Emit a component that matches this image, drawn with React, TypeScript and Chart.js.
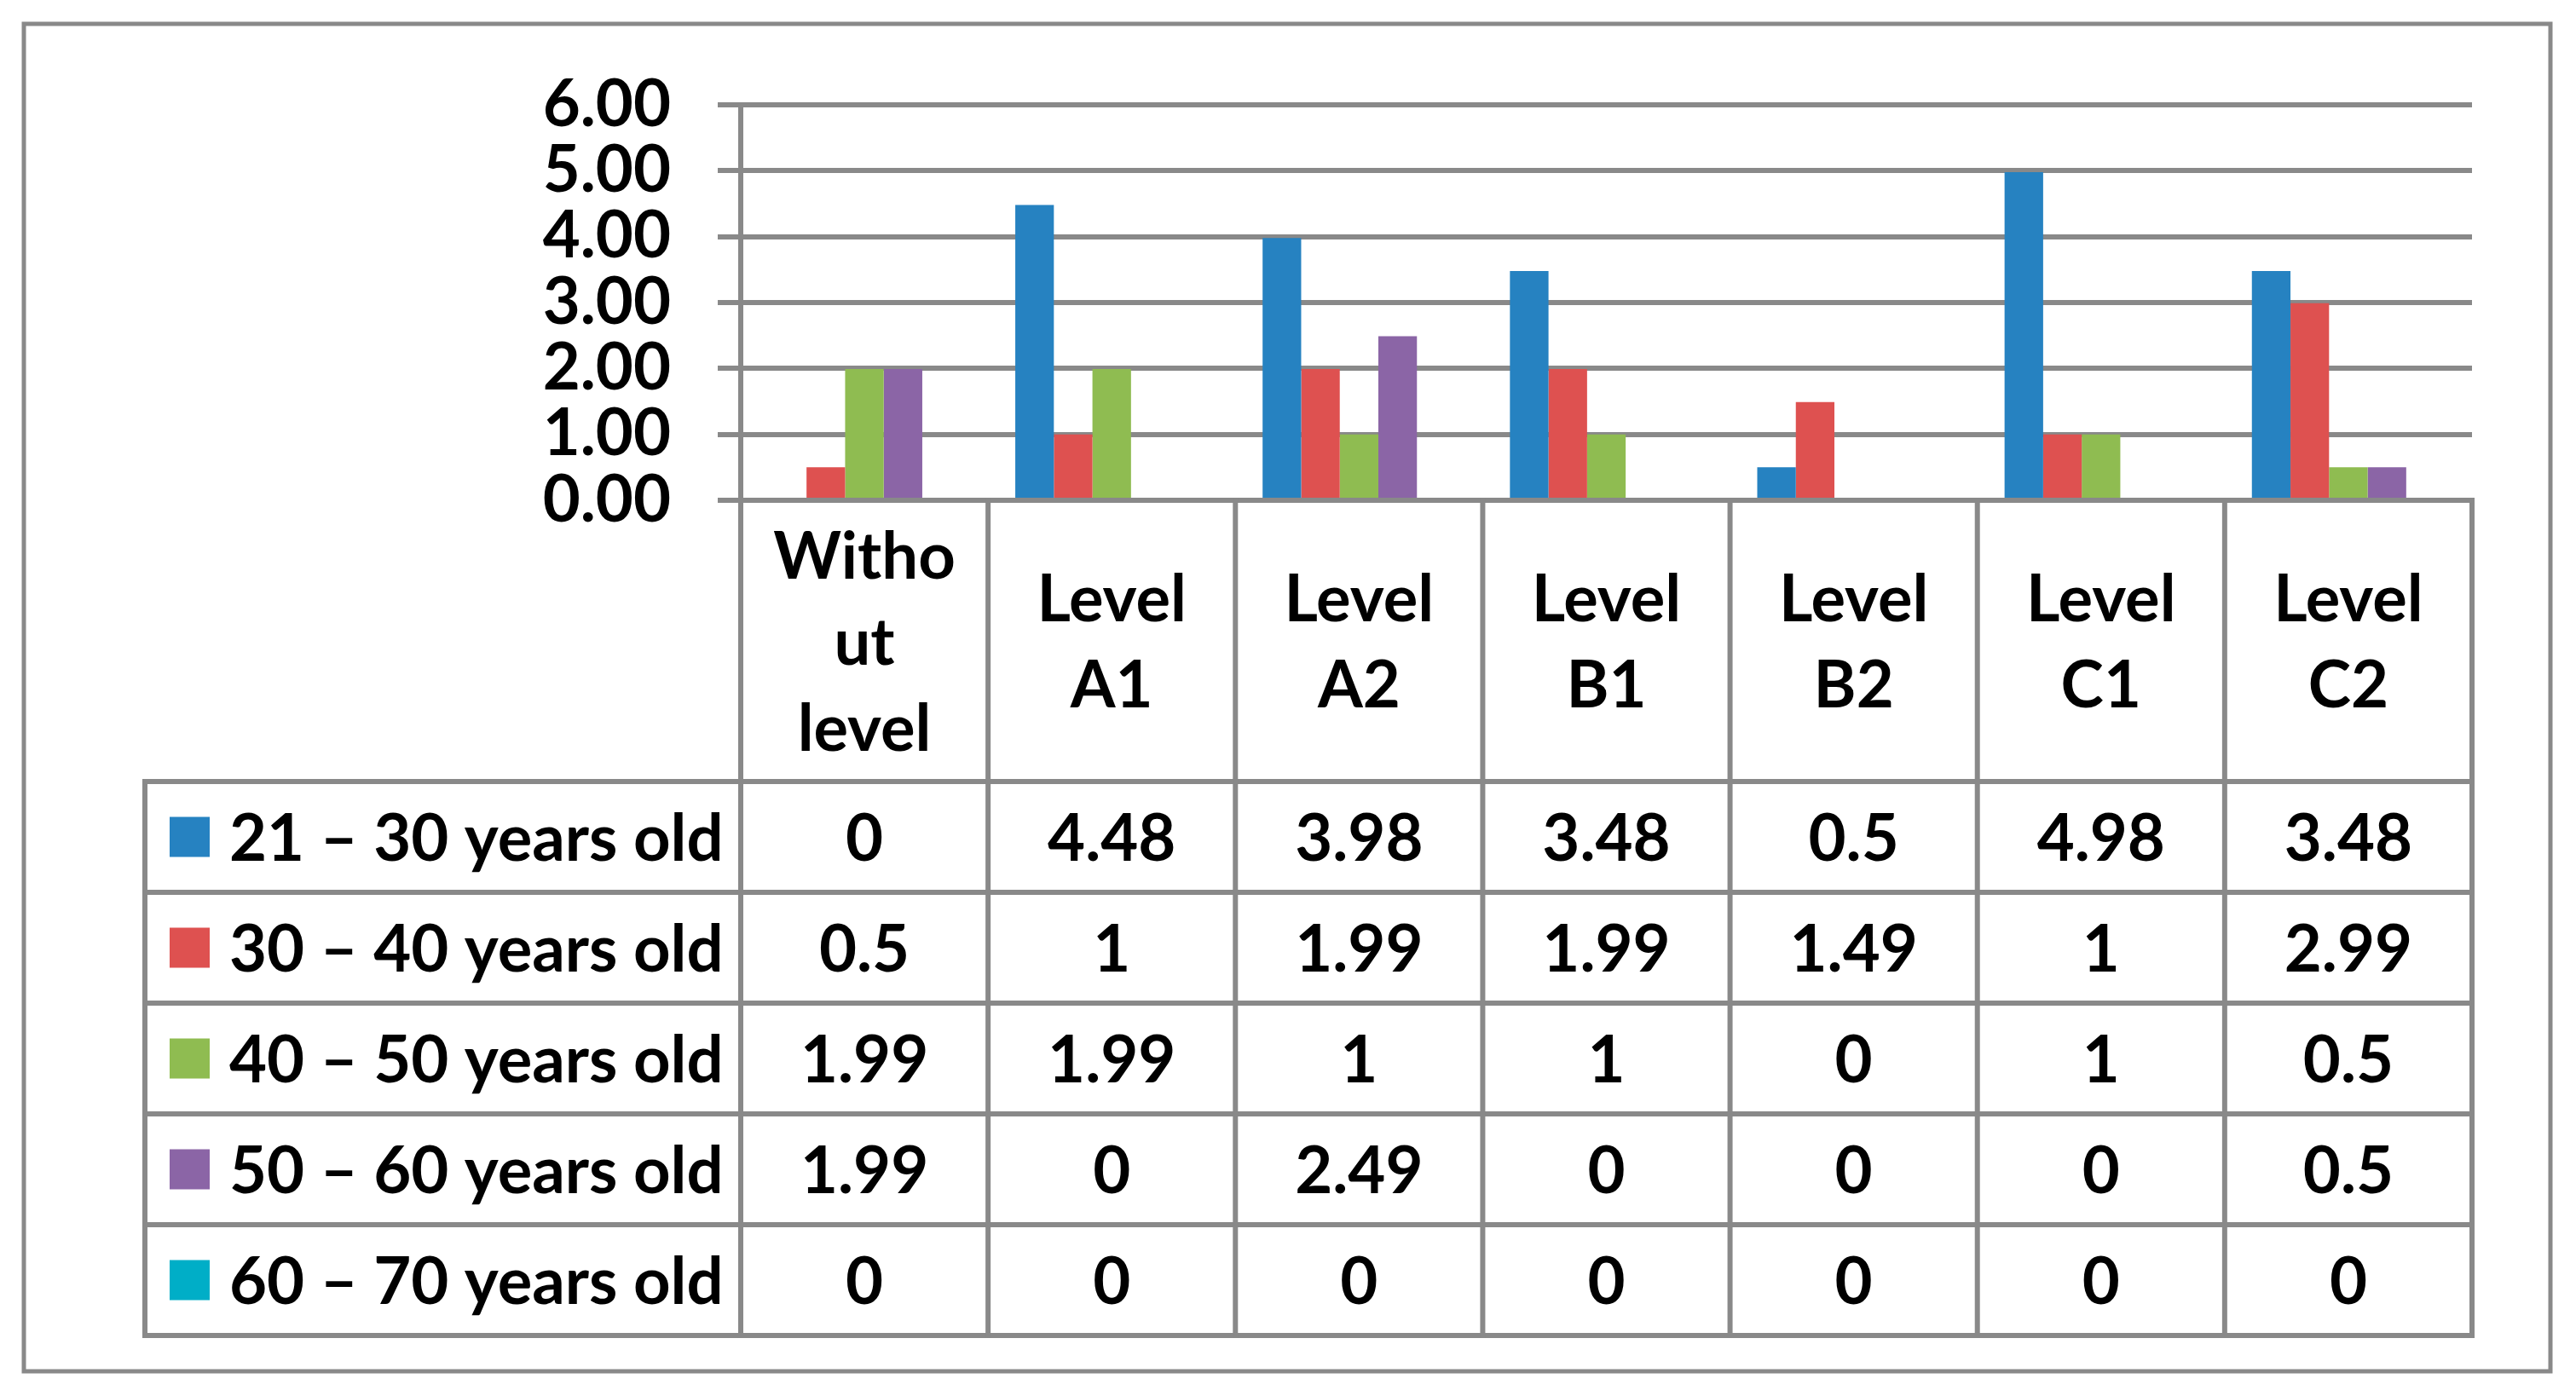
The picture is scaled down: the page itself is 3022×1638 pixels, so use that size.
import React, { useEffect, useRef } from "react";
import { Chart, registerables } from "chart.js";

Chart.register(...registerables);

// ---- data ----
const categories: string[][] = [
  ["Witho", "ut", "level"],
  ["Level", "A1"],
  ["Level", "A2"],
  ["Level", "B1"],
  ["Level", "B2"],
  ["Level", "C1"],
  ["Level", "C2"],
];
const seriesNames = [
  "21 – 30 years old",
  "30 – 40 years old",
  "40 – 50 years old",
  "50 – 60 years old",
  "60 – 70 years old",
];
const age21to30 = [0, 4.48, 3.98, 3.48, 0.5, 4.98, 3.48];
const age30to40 = [0.5, 1, 1.99, 1.99, 1.49, 1, 2.99];
const age40to50 = [1.99, 1.99, 1, 1, 0, 1, 0.5];
const age50to60 = [1.99, 0, 2.49, 0, 0, 0, 0.5];
const age60to70 = [0, 0, 0, 0, 0, 0, 0];
const seriesValues = [age21to30, age30to40, age40to50, age50to60, age60to70];
const seriesColors = ["#2682C1", "#DE5150", "#8FBC51", "#8B65A6", "#00AEC7"];
const yTickLabels = ["0.00", "1.00", "2.00", "3.00", "4.00", "5.00", "6.00"];

// ---- style / layout ----
const W = 3022;
const H = 1638;
const GRID = "#898989";
const LW = 6;
const FONT_FAMILY = "Lato";
const FONT_SIZE = 76;
const FONT = `bold ${FONT_SIZE}px ${FONT_FAMILY}`;
const CAP_HALF = FONT_SIZE * 0.362;
const TABLE_LEFT = 170;
const HEADER_BOTTOM = 917;
const ROW_H = 130;
const HEADER_LINE = 101;

const tablePlugin = {
  id: "dataTable",
  afterDraw(chart: any) {
    const ctx = chart.ctx as CanvasRenderingContext2D;
    const xs = chart.scales.x;
    const ys = chart.scales.y;
    const area = chart.chartArea;
    const n = categories.length;
    const catW = n > 1 ? xs.getPixelForValue(1) - xs.getPixelForValue(0) : area.right - area.left;
    const axisY = ys.getPixelForValue(0);
    const bottom = HEADER_BOTTOM + ROW_H * seriesNames.length;

    ctx.save();
    ctx.strokeStyle = GRID;
    ctx.lineWidth = LW;
    ctx.lineCap = "square";
    const line = (x1: number, y1: number, x2: number, y2: number) => {
      ctx.beginPath();
      ctx.moveTo(x1, y1);
      ctx.lineTo(x2, y2);
      ctx.stroke();
    };
    // horizontal table lines
    for (let r = 0; r <= seriesNames.length; r++) {
      const yy = HEADER_BOTTOM + r * ROW_H;
      line(TABLE_LEFT, yy, area.right, yy);
    }
    // y axis extension into the table
    line(area.left, area.top, area.left, bottom);
    // column separators
    for (let i = 0; i < n; i++) {
      const xb = xs.getPixelForValue(i) + catW / 2;
      line(xb, axisY, xb, bottom);
    }
    // legend column left edge
    line(TABLE_LEFT, HEADER_BOTTOM, TABLE_LEFT, bottom);

    // outer border
    ctx.lineCap = "butt";
    ctx.lineWidth = 5;
    ctx.strokeRect(28, 28, 2964, 1581);

    // text
    ctx.fillStyle = "#000";
    ctx.font = FONT;
    ctx.textBaseline = "alphabetic";
    const headerCenter = (axisY + HEADER_BOTTOM) / 2;
    categories.forEach((lines, i) => {
      const cx = xs.getPixelForValue(i);
      ctx.textAlign = "center";
      lines.forEach((t, k) => {
        const cy = headerCenter + (k - (lines.length - 1) / 2) * HEADER_LINE;
        ctx.fillText(t, cx, cy + CAP_HALF);
      });
    });

    seriesNames.forEach((name, r) => {
      const cy = HEADER_BOTTOM + ROW_H * (r + 0.5);
      ctx.fillStyle = seriesColors[r];
      ctx.fillRect(199, cy - 23.5, 47, 47);
      ctx.fillStyle = "#000";
      ctx.textAlign = "left";
      ctx.fillText(name, 269, cy + CAP_HALF);
      ctx.textAlign = "center";
      seriesValues[r].forEach((v, i) => {
        ctx.fillText(String(v), xs.getPixelForValue(i), cy + CAP_HALF);
      });
    });
    ctx.restore();
  },
};

export default function App() {
  const ref = useRef<HTMLCanvasElement | null>(null);

  useEffect(() => {
    if (!ref.current) return;
    const chart = new Chart(ref.current, {
      type: "bar",
      data: {
        labels: categories.map((c) => c.join("")),
        datasets: seriesNames.map((name, i) => ({
          label: name,
          data: seriesValues[i],
          backgroundColor: seriesColors[i],
          borderWidth: 0,
          categoryPercentage: 0.78,
          barPercentage: 1,
        })),
      },
      options: {
        responsive: false,
        animation: false,
        devicePixelRatio: 1,
        layout: { padding: { left: 0, right: W - 2900, top: 123, bottom: H - 587 } },
        plugins: {
          legend: { display: false },
          tooltip: { enabled: false },
        },
        scales: {
          x: { display: false },
          y: {
            min: 0,
            max: 6,
            afterFit: (s: any) => {
              s.width = 869;
            },
            ticks: {
              stepSize: 1,
              autoSkip: false,
              callback: (_v: any, i: number) => yTickLabels[i],
              font: { family: FONT_FAMILY, size: FONT_SIZE, weight: "bold" },
              color: "#000",
              padding: 55,
            },
            grid: { color: GRID, lineWidth: LW, tickLength: 27, drawTicks: true },
            border: { display: true, color: GRID, width: LW },
          },
        },
      } as any,
      plugins: [tablePlugin],
    });
    return () => chart.destroy();
  }, []);

  return (
    <div style={{ position: "fixed", left: 0, top: 0, width: W, height: H, background: "#fff" }}>
      <canvas ref={ref} width={W} height={H} style={{ display: "block" }} />
    </div>
  );
}
